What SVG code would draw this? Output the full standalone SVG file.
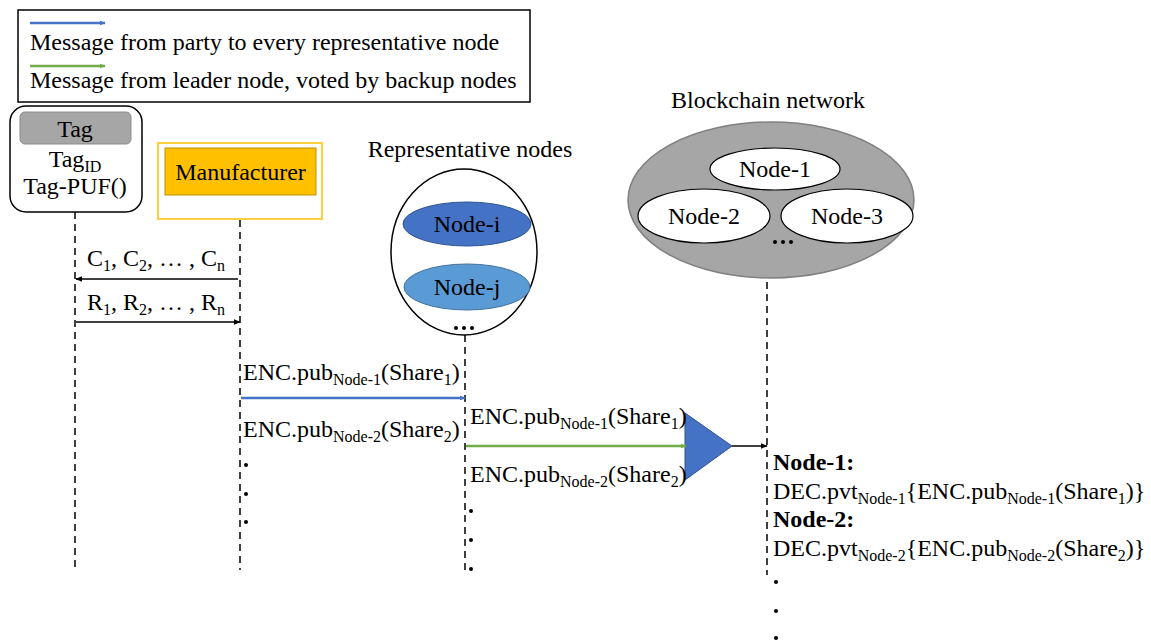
<svg xmlns="http://www.w3.org/2000/svg" width="1151" height="642" viewBox="0 0 1151 642">
  <defs>
    <marker id="ahBlue" viewBox="0 0 10 10" refX="9" refY="5" markerWidth="6" markerHeight="6" orient="auto" markerUnits="userSpaceOnUse">
      <path d="M0,1 L10,5 L0,9 z" fill="#4472c4"/>
    </marker>
    <marker id="ahGreen" viewBox="0 0 10 10" refX="9" refY="5" markerWidth="6" markerHeight="6" orient="auto" markerUnits="userSpaceOnUse">
      <path d="M0,1 L10,5 L0,9 z" fill="#70ad47"/>
    </marker>
    <marker id="ahBlack" viewBox="0 0 10 10" refX="9" refY="5" markerWidth="7" markerHeight="7" orient="auto" markerUnits="userSpaceOnUse">
      <path d="M0,1 L10,5 L0,9 z" fill="#000"/>
    </marker>
  </defs>
  <style>
    text { font-family: "Liberation Serif", "Times New Roman", serif; fill: #000; }
    .t { font-size: 24px; }
    .sub { font-size: 16px; }
    .b { font-weight: bold; }
    .life { stroke: #000; stroke-width: 1.5; stroke-dasharray: 7 5; fill: none; }
    .msg { stroke: #000; stroke-width: 1.5; fill: none; }
    .blue { stroke: #4472c4; stroke-width: 2.5; fill: none; }
    .green { stroke: #70ad47; stroke-width: 2.5; fill: none; }
    .dot { fill: #000; }
  </style>
  <rect width="1151" height="642" fill="#fff"/>

  <!-- legend -->
  <g id="legend">
    <rect x="18" y="10" width="512" height="92" fill="#fff" stroke="#000" stroke-width="1.5"/>
    <line x1="30" y1="23" x2="105" y2="23" class="blue" marker-end="url(#ahBlue)"/>
    <text x="30" y="50" class="t">Message from party to every representative node</text>
    <line x1="30" y1="66" x2="105" y2="66" class="green" marker-end="url(#ahGreen)"/>
    <text x="30" y="88" class="t">Message from leader node, voted by backup nodes</text>
  </g>

  <!-- tag -->
  <g id="tag">
    <rect x="10" y="106" width="132" height="106" rx="16" fill="#fff" stroke="#000" stroke-width="1.5"/>
    <rect x="20" y="112" width="111" height="32" rx="5" fill="#a6a6a6" stroke="#8c8c8c" stroke-width="1"/>
    <text x="75" y="137" class="t" text-anchor="middle">Tag</text>
    <text x="75" y="167" class="t" text-anchor="middle">Tag<tspan class="sub" dy="5">ID</tspan></text>
    <text x="75" y="194" class="t" text-anchor="middle">Tag-PUF()</text>
  </g>

  <!-- manufacturer -->
  <g id="manufacturer">
    <rect x="158" y="143" width="164" height="76" fill="#fff" stroke="#ffc000" stroke-width="1.5"/>
    <rect x="165" y="148" width="151" height="47" fill="#ffc000" stroke="#bf9000" stroke-width="1"/>
    <text x="240.5" y="180" class="t" text-anchor="middle">Manufacturer</text>
  </g>

  <!-- representative nodes -->
  <g id="representative-nodes">
    <text x="470" y="157" class="t" text-anchor="middle">Representative nodes</text>
    <ellipse cx="464" cy="252" rx="73" ry="83" fill="#fff" stroke="#000" stroke-width="1.5"/>
    <ellipse cx="467" cy="224" rx="64" ry="22" fill="#4472c4" stroke="#2f528f" stroke-width="1"/>
    <text x="467" y="232" class="t" text-anchor="middle">Node-i</text>
    <ellipse cx="467" cy="287" rx="63" ry="23" fill="#5b9bd5" stroke="#41719c" stroke-width="1"/>
    <text x="467" y="295" class="t" text-anchor="middle">Node-j</text>
    <circle cx="456" cy="328" r="2" class="dot"/>
    <circle cx="464" cy="328" r="2" class="dot"/>
    <circle cx="472" cy="328" r="2" class="dot"/>
  </g>

  <!-- blockchain network -->
  <g id="blockchain-network">
    <text x="768" y="108" class="t" text-anchor="middle">Blockchain network</text>
    <ellipse cx="771" cy="200" rx="143" ry="78" fill="#a6a6a6" stroke="#7f7f7f" stroke-width="1.5"/>
    <ellipse cx="775" cy="169" rx="65" ry="21" fill="#fff" stroke="#000" stroke-width="1.2"/>
    <text x="775" y="177" class="t" text-anchor="middle">Node-1</text>
    <ellipse cx="704" cy="216" rx="66" ry="27" fill="#fff" stroke="#000" stroke-width="1.2"/>
    <text x="704" y="224" class="t" text-anchor="middle">Node-2</text>
    <ellipse cx="847" cy="216" rx="66" ry="27" fill="#fff" stroke="#000" stroke-width="1.2"/>
    <text x="847" y="224" class="t" text-anchor="middle">Node-3</text>
    <circle cx="775" cy="242" r="2" class="dot"/>
    <circle cx="783" cy="242" r="2" class="dot"/>
    <circle cx="791" cy="242" r="2" class="dot"/>
  </g>

  <!-- leader vote -->
  <g id="vote">
    <polygon points="685,413 685,480 732,446" fill="#4472c4" stroke="#2f528f" stroke-width="1"/>
  </g>

  <!-- lifelines and messages -->
  <g id="connectors">
    <line x1="75" y1="212" x2="75" y2="572" class="life"/>
    <line x1="240" y1="220" x2="240" y2="570" class="life"/>
    <line x1="465" y1="335" x2="465" y2="575" class="life"/>
    <line x1="767" y1="282" x2="767" y2="575" class="life"/>

    <line x1="238" y1="279" x2="76" y2="279" class="msg" marker-end="url(#ahBlack)"/>
    <line x1="76" y1="322" x2="240" y2="322" class="msg" marker-end="url(#ahBlack)"/>
    <line x1="241" y1="398" x2="465" y2="398" class="blue" marker-end="url(#ahBlue)"/>
    <line x1="466" y1="446" x2="686" y2="446" class="green" marker-end="url(#ahGreen)"/>
    <line x1="732" y1="446" x2="767" y2="446" class="msg" marker-end="url(#ahBlack)"/>
  </g>

  <!-- message labels -->
  <g id="labels">
    <text x="87" y="266" class="t">C<tspan class="sub" dy="5">1</tspan><tspan dy="-5">, C</tspan><tspan class="sub" dy="5">2</tspan><tspan dy="-5">, … , C</tspan><tspan class="sub" dy="5">n</tspan></text>
    <text x="87" y="310" class="t">R<tspan class="sub" dy="5">1</tspan><tspan dy="-5">, R</tspan><tspan class="sub" dy="5">2</tspan><tspan dy="-5">, … , R</tspan><tspan class="sub" dy="5">n</tspan></text>

    <text x="243" y="380" class="t">ENC.pub<tspan class="sub" dy="5">Node-1</tspan><tspan dy="-5">(Share</tspan><tspan class="sub" dy="5">1</tspan><tspan dy="-5">)</tspan></text>
    <text x="243" y="437" class="t">ENC.pub<tspan class="sub" dy="5">Node-2</tspan><tspan dy="-5">(Share</tspan><tspan class="sub" dy="5">2</tspan><tspan dy="-5">)</tspan></text>
    <circle cx="246" cy="465" r="2" class="dot"/>
    <circle cx="246" cy="494" r="2" class="dot"/>
    <circle cx="246" cy="522" r="2" class="dot"/>

    <text x="470" y="424" class="t">ENC.pub<tspan class="sub" dy="5">Node-1</tspan><tspan dy="-5">(Share</tspan><tspan class="sub" dy="5">1</tspan><tspan dy="-5">)</tspan></text>
    <text x="470" y="482" class="t">ENC.pub<tspan class="sub" dy="5">Node-2</tspan><tspan dy="-5">(Share</tspan><tspan class="sub" dy="5">2</tspan><tspan dy="-5">)</tspan></text>
    <circle cx="471" cy="511" r="2" class="dot"/>
    <circle cx="471" cy="540" r="2" class="dot"/>
    <circle cx="471" cy="569" r="2" class="dot"/>

    <text x="773" y="470" class="t b">Node-1:</text>
    <text x="773" y="499" class="t">DEC.pvt<tspan class="sub" dy="5">Node-1</tspan><tspan dy="-5">{ENC.pub</tspan><tspan class="sub" dy="5">Node-1</tspan><tspan dy="-5">(Share</tspan><tspan class="sub" dy="5">1</tspan><tspan dy="-5">)}</tspan></text>
    <text x="773" y="527" class="t b">Node-2:</text>
    <text x="773" y="556" class="t">DEC.pvt<tspan class="sub" dy="5">Node-2</tspan><tspan dy="-5">{ENC.pub</tspan><tspan class="sub" dy="5">Node-2</tspan><tspan dy="-5">(Share</tspan><tspan class="sub" dy="5">2</tspan><tspan dy="-5">)}</tspan></text>
    <circle cx="776" cy="582" r="2" class="dot"/>
    <circle cx="776" cy="611" r="2" class="dot"/>
    <circle cx="776" cy="638" r="2" class="dot"/>
  </g>
</svg>
